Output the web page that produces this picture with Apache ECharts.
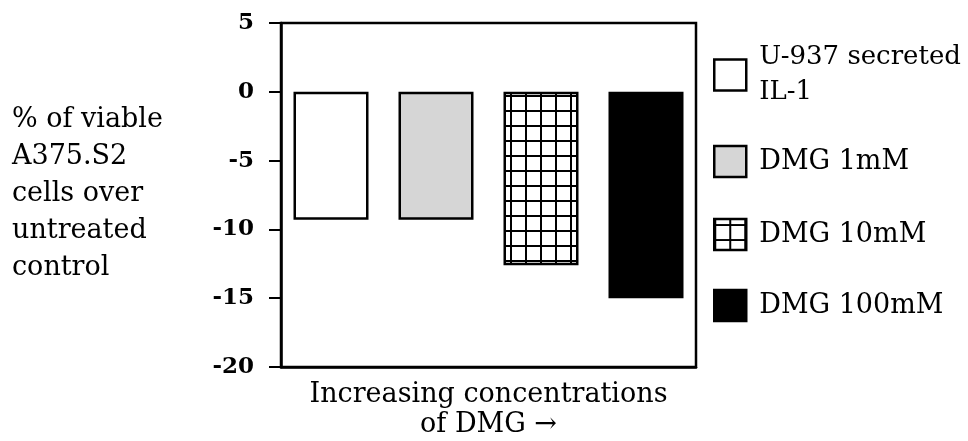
<!DOCTYPE html>
<html>
<head>
<meta charset="utf-8">
<script src="https://cdn.jsdelivr.net/npm/echarts@6/dist/echarts.min.js"></script>
<style>
html,body{margin:0;padding:0;background:#fff;}
#chart{width:968px;height:441px;}
</style>
</head>
<body>
<div id="chart"></div>
<script>
// ---- data ----
var categories = ['Increasing concentrations of DMG'];
var seriesNames = ['U-937 secreted IL-1', 'DMG 1mM', 'DMG 10mM', 'DMG 100mM'];
var seriesValues = [-9.3, -9.3, -12.6, -15.0];
var yTicks = { min: -20, max: 5, interval: 5 };
var yAxisTitle = '% of viable\nA375.S2\ncells over\nuntreated\ncontrol';
var xAxisTitle = 'Increasing concentrations\nof DMG \u2192';

// grid hatch pattern
function makeGrid() {
  var c = document.createElement('canvas');
  c.width = 15; c.height = 15;
  var g = c.getContext('2d');
  g.fillStyle = '#fff'; g.fillRect(0, 0, 15, 15);
  g.fillStyle = '#000';
  g.fillRect(0, 0, 2, 15);
  g.fillRect(0, 5, 15, 2);
  return c;
}
var fills = ['#ffffff', '#d6d6d6', { image: makeGrid(), repeat: 'repeat' }, '#000000'];

var FONT = 'DejaVu Serif';
var chart = echarts.init(document.getElementById('chart'));

var series = seriesNames.map(function (n, i) {
  return {
    name: n,
    type: 'bar',
    data: [seriesValues[i]],
    barWidth: 75,
    barGap: '40%',
    itemStyle: { color: fills[i], borderColor: '#000', borderWidth: 2.5 },
    emphasis: { disabled: true },
    animation: false
  };
});

var legendTops = [40, 144, 217, 288];
var legendFontSizes = [26, 27, 27, 27];
var legends = seriesNames.map(function (n, i) {
  return {
    data: [n],
    left: 713,
    top: legendTops[i],
    padding: 0,
    orient: 'vertical',
    itemWidth: 32,
    itemHeight: 31,
    itemGap: 0,
    selectedMode: false,
    icon: 'rect',
    formatter: function (name) {
      return name === 'U-937 secreted IL-1' ? 'U-937 secreted\nIL-1' : name;
    },
    textStyle: { fontFamily: FONT, fontSize: legendFontSizes[i], color: '#000', lineHeight: 35, padding: [0, 0, 0, 8] },
    itemStyle: { borderColor: '#000', borderWidth: 2.5 }
  };
});

chart.setOption({
  animation: false,
  backgroundColor: '#fff',
  title: {
    text: yAxisTitle,
    left: 12,
    top: 101,
    padding: 0,
    textStyle: { fontFamily: FONT, fontSize: 27, fontWeight: 'normal', color: '#000', lineHeight: 37 }
  },
  legend: legends,
  grid: {
    left: 281, right: 272, top: 23, bottom: 74,
    containLabel: false, outerBoundsMode: 'none',
    show: true, borderColor: '#000', borderWidth: 2.5, backgroundColor: 'transparent'
  },
  xAxis: {
    type: 'category',
    data: categories,
    axisLabel: { show: false },
    axisTick: { show: false },
    axisLine: { onZero: false, lineStyle: { color: '#000', width: 2.5 } },
    name: xAxisTitle,
    nameLocation: 'middle',
    nameGap: 13,
    nameTextStyle: { fontFamily: FONT, fontSize: 27, color: '#000', lineHeight: 30, verticalAlign: 'top' }
  },
  yAxis: {
    type: 'value',
    min: yTicks.min,
    max: yTicks.max,
    interval: yTicks.interval,
    splitLine: { show: false },
    axisLine: { show: true, lineStyle: { color: '#000', width: 2.5 } },
    axisTick: { show: true, length: 12, lineStyle: { color: '#000', width: 2 } },
    axisLabel: { fontFamily: FONT, fontSize: 23, fontWeight: 'bold', color: '#000', margin: 27 }
  },
  series: series
});
</script>
</body>
</html>
